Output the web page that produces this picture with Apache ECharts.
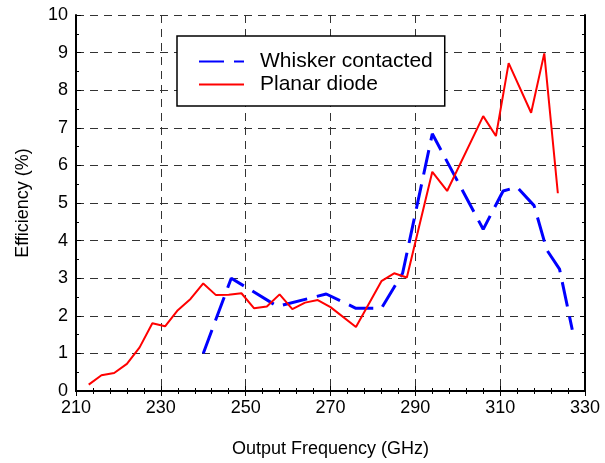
<!DOCTYPE html>
<html>
<head>
<meta charset="utf-8">
<script src="https://cdn.jsdelivr.net/npm/echarts@6/dist/echarts.min.js"></script>
<style>
  html, body { margin: 0; padding: 0; background: #fff; }
  #chart { width: 605px; height: 463px; }
</style>
</head>
<body>
<div id="chart"></div>
<script>
// whisker contacted diode: frequency (GHz) / efficiency (%)
const whiskerFreq = [240, 246.6, 257.5, 269, 276, 282, 287, 294, 306, 310.7, 314, 318, 321, 324, 327];
const whiskerEff  = [1.0, 3.0, 2.25, 2.58, 2.2, 2.2, 3.13, 6.84, 4.3, 5.32, 5.42, 4.93, 3.75, 3.24, 1.63];

// planar diode
const planarFreq = [213, 216, 219, 222, 225, 228, 231, 234, 237, 240, 243, 246, 249, 252, 255, 258, 261, 264, 267, 270,
                    276, 282, 285, 288, 294, 297.5, 306, 309, 312, 317.3, 320.4, 323.6];
const planarEff  = [0.17, 0.42, 0.48, 0.72, 1.16, 1.8, 1.72, 2.15, 2.45, 2.86, 2.55, 2.56, 2.6, 2.2, 2.25, 2.57, 2.18, 2.35, 2.42, 2.23,
                    1.7, 2.92, 3.13, 3.02, 5.83, 5.32, 7.31, 6.78, 8.72, 7.4, 8.98, 5.26];

const seriesNames = ['Whisker contacted', 'Planar diode'];

const pairs = (xs, ys) => xs.map((x, i) => [x, ys[i]]);

const font = 'Liberation Sans, Arial, sans-serif';
const gridDash = { color: '#333', width: 1, type: [8, 6] };

let myChart = echarts.init(document.getElementById('chart'));
let option = {
  animation: false,
  backgroundColor: '#fff',
  textStyle: { fontFamily: font },
  grid: { left: 76, right: 20, top: 15, bottom: 72 },
  legend: {
    left: 177,
    top: 36,
    orient: 'vertical',
    backgroundColor: '#fff',
    borderColor: '#000',
    borderWidth: 1.5,
    padding: [15, 12, 11, 21],
    itemGap: 2,
    itemWidth: 45,
    itemHeight: 21,
    itemStyle: { opacity: 0 },
    textStyle: { fontSize: 21, color: '#000', fontFamily: font, padding: [0, 0, 0, 11] },
    data: seriesNames
  },
  xAxis: [
    {
      type: 'value', min: 210, max: 330, interval: 20,
      name: 'Output Frequency (GHz)', nameLocation: 'middle', nameGap: 49,
      nameTextStyle: { fontSize: 18, color: '#000' },
      axisLine: { lineStyle: { color: '#000', width: 2 } },
      axisTick: { inside: true, length: 5, lineStyle: { color: '#000' } },
      minorTick: { show: true, splitNumber: 5, length: 3, lineStyle: { color: '#000' } },
      axisLabel: { fontSize: 18, color: '#000', margin: 8 },
      splitLine: { show: true, lineStyle: gridDash }
    },
    {
      type: 'value', min: 210, max: 330, interval: 20, position: 'top',
      axisLine: { lineStyle: { color: '#000', width: 2 } },
      axisTick: { inside: true, length: 5, lineStyle: { color: '#000' } },
      minorTick: { show: true, splitNumber: 5, length: 3, lineStyle: { color: '#000' } },
      axisLabel: { show: false },
      splitLine: { show: false }
    }
  ],
  yAxis: [
    {
      type: 'value', min: 0, max: 10, interval: 1,
      name: 'Efficiency (%)', nameLocation: 'middle', nameGap: 44, nameRotate: 90,
      nameTextStyle: { fontSize: 18, color: '#000' },
      axisLine: { show: true, lineStyle: { color: '#000', width: 2 } },
      axisTick: { show: true, inside: true, length: 5, lineStyle: { color: '#000' } },
      minorTick: { show: true, splitNumber: 2, length: 3, lineStyle: { color: '#000' } },
      axisLabel: { fontSize: 18, color: '#000', margin: 8 },
      splitLine: { show: true, lineStyle: gridDash }
    },
    {
      type: 'value', min: 0, max: 10, interval: 1, position: 'right',
      axisLine: { show: true, lineStyle: { color: '#000', width: 2 } },
      axisTick: { show: true, inside: true, length: 5, lineStyle: { color: '#000' } },
      minorTick: { show: true, splitNumber: 2, length: 3, lineStyle: { color: '#000' } },
      axisLabel: { show: false },
      splitLine: { show: false }
    }
  ],
  series: [
    {
      name: seriesNames[0],
      type: 'line',
      symbol: 'none',
      color: '#0000ff',
      lineStyle: { color: '#0000ff', width: 3, type: [25, 10] },
      data: pairs(whiskerFreq, whiskerEff)
    },
    {
      name: seriesNames[1],
      type: 'line',
      symbol: 'none',
      color: '#ff0000',
      lineStyle: { color: '#ff0000', width: 2 },
      data: pairs(planarFreq, planarEff)
    }
  ]
};
myChart.setOption(option);
</script>
</body>
</html>
